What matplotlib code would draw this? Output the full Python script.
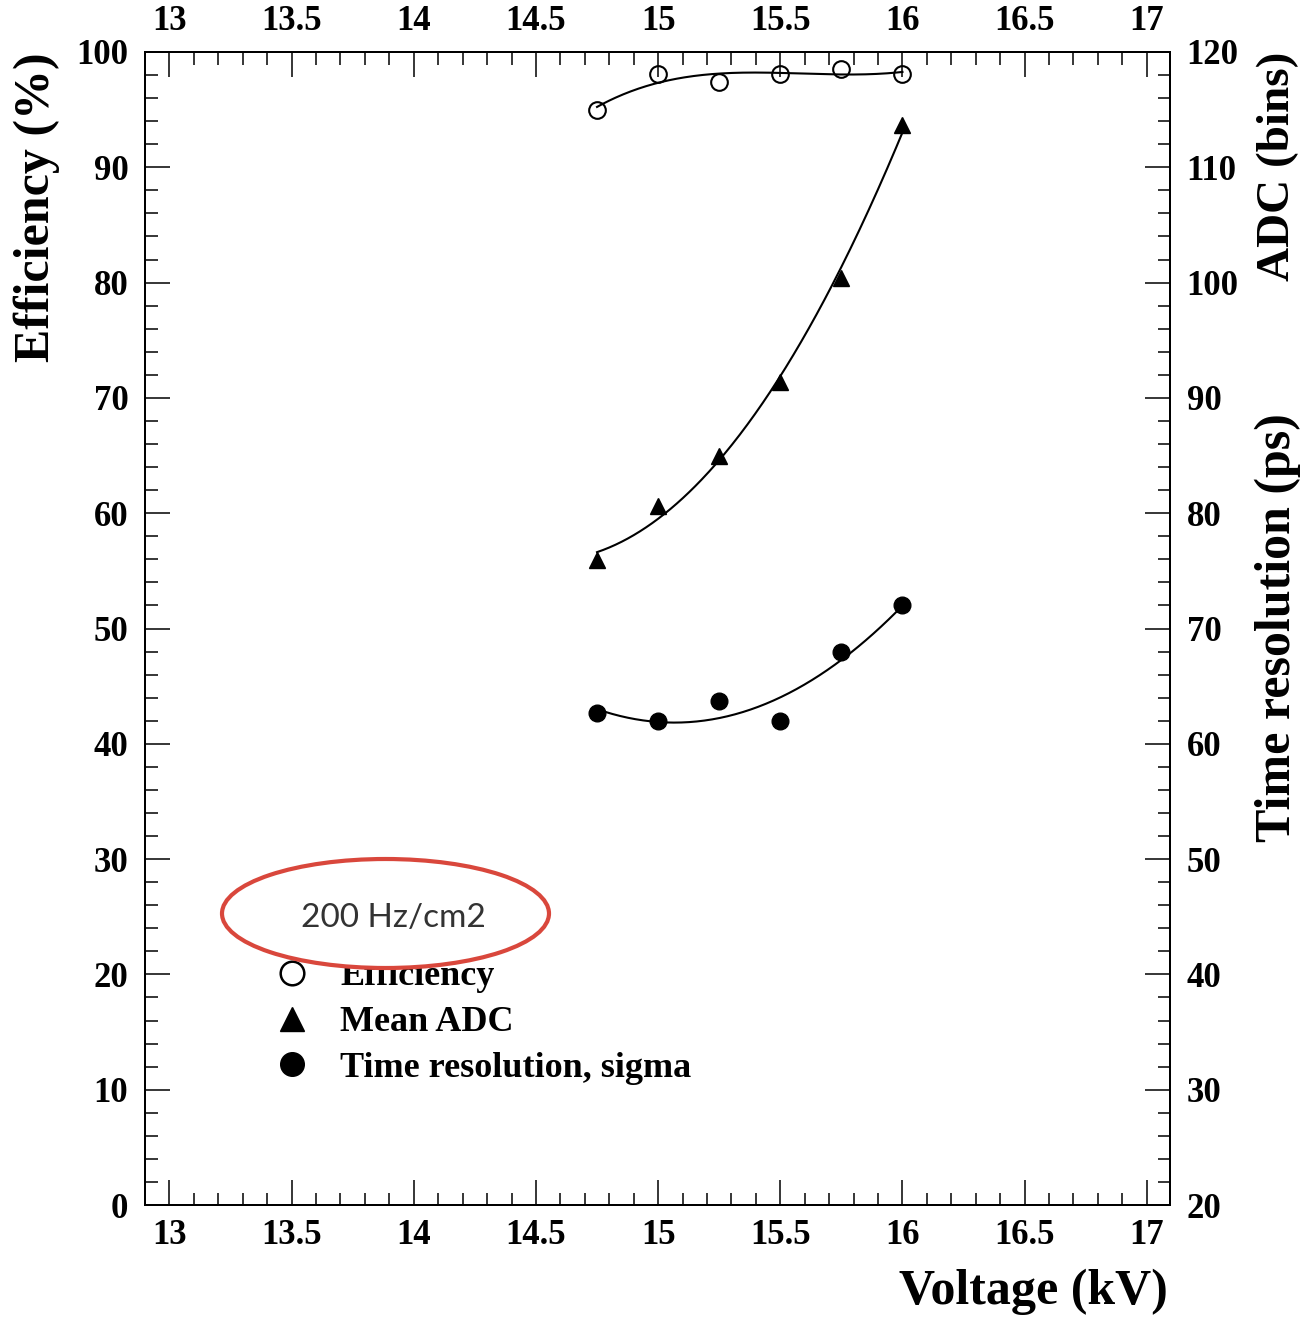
import numpy as np
import matplotlib
matplotlib.use("Agg")
import matplotlib.pyplot as plt
from matplotlib.patches import Ellipse
from matplotlib.lines import Line2D
from matplotlib.ticker import MultipleLocator

# ---------------- data ----------------
voltage = [14.75, 15.0, 15.25, 15.5, 15.75, 16.0]           # kV
efficiency = [95.0, 98.1, 97.4, 98.1, 98.5, 98.1]          # %
mean_adc = [75.9, 80.6, 85.0, 91.4, 100.4, 113.7]          # bins
time_res = [62.7, 62.0, 63.7, 62.0, 68.0, 72.0]            # ps

x_ticks = [13, 13.5, 14, 14.5, 15, 15.5, 16, 16.5, 17]
x_ticklabels = ["13", "13.5", "14", "14.5", "15", "15.5", "16", "16.5", "17"]
legend_labels = ["Efficiency", "Mean ADC", "Time resolution, sigma"]
note_text = "200 Hz/cm2"

plt.rcParams['font.family'] = ['Liberation Serif', 'DejaVu Serif']
plt.rcParams['font.weight'] = 'bold'

W, H = 1305, 1318
fig = plt.figure(figsize=(W / 100, H / 100), dpi=100)
L, R, T, B = 145, 1170, 52, 1205
ax = fig.add_axes([L / W, 1 - B / H, (R - L) / W, (B - T) / H])
ax2 = ax.twinx()

ax.set_xlim(12.9, 17.095)
ax.set_ylim(0, 100)
ax2.set_ylim(20, 120)

# fits
xs = np.linspace(voltage[0], voltage[-1], 200)
v = np.array(voltage)
p_eff = np.polyfit(v, efficiency, 3)
p_adc = np.polyfit(v, mean_adc, 2)
p_t = np.polyfit(v, time_res, 2)

ax.plot(xs, np.polyval(p_eff, xs), color='black', lw=1.5, zorder=2)
ax2.plot(xs, np.polyval(p_adc, xs), color='black', lw=1.5, zorder=2)
ax2.plot(xs, np.polyval(p_t, xs), color='black', lw=1.5, zorder=2)

ms = 12
ax.plot(voltage, efficiency, ls='none', marker='o', ms=ms, mfc='none',
        mec='black', mew=1.5, zorder=3)
ax2.plot(voltage, mean_adc, ls='none', marker='^', ms=ms, color='black', zorder=3)
ax2.plot(voltage, time_res, ls='none', marker='o', ms=ms, color='black', zorder=3)

# ticks
fs_tick = 25
for a in (ax, ax2):
    for s in a.spines.values():
        s.set_linewidth(1.4)

ax.set_xticks(x_ticks)
ax.set_xticklabels(x_ticklabels)
ax.xaxis.set_minor_locator(MultipleLocator(0.1))
ax.yaxis.set_major_locator(MultipleLocator(10))
ax.yaxis.set_minor_locator(MultipleLocator(2))
ax2.yaxis.set_major_locator(MultipleLocator(10))
ax2.yaxis.set_minor_locator(MultipleLocator(2))

ax.tick_params(axis='x', which='both', direction='in', top=True, bottom=True,
               labeltop=True, labelbottom=True, labelsize=fs_tick, pad=10)
ax.tick_params(axis='y', which='both', direction='in', left=True, right=False,
               labelsize=fs_tick, pad=12)
ax.tick_params(which='major', length=18, width=1.1)
ax.tick_params(which='minor', length=9, width=1.1)
ax2.tick_params(axis='y', which='both', direction='in', labelsize=fs_tick, pad=12)
ax2.tick_params(which='major', length=18, width=1.1)
ax2.tick_params(which='minor', length=9, width=1.1)
for lab in ax.get_xticklabels() + ax.get_yticklabels() + ax2.get_yticklabels():
    lab.set_fontweight('bold')

# axis titles
fs_title = 36
fig.text(1168 / W, 1 - 1292 / H, "Voltage (kV)", ha='right', va='center',
         fontsize=fs_title, fontweight='bold')
fig.text(37 / W, 1 - T / H, "Efficiency (%)", rotation=90, ha='center', va='top',
         fontsize=fs_title, fontweight='bold')
fig.text(1278 / W, 1 - T / H, "ADC (bins)", rotation=90, ha='center', va='top',
         fontsize=34, fontweight='bold')
fig.text(1278 / W, 1 - 628 / H, "Time resolution (ps)", rotation=90, ha='center',
         va='center', fontsize=fs_title, fontweight='bold')

# legend
lms = 17
handles = [
    Line2D([], [], ls='none', marker='o', ms=lms, mfc='none', mec='black', mew=1.8),
    Line2D([], [], ls='none', marker='^', ms=lms, color='black'),
    Line2D([], [], ls='none', marker='o', ms=lms, color='black'),
]
leg = ax.legend(handles, legend_labels, loc='upper left',
                bbox_to_anchor=((274 - L) / (R - L), (B - 960) / (B - T)),
                frameon=False, handlelength=1.0, handletextpad=0.83,
                labelspacing=0.35, borderpad=0, borderaxespad=0,
                prop={'weight': 'bold', 'size': 26})
leg.set_zorder(5)

# annotation ellipse
ell = Ellipse(((385.5 - L) / (R - L), (B - 913.5) / (B - T)),
              327 / (R - L), 109 / (B - T), transform=ax.transAxes,
              facecolor='white', edgecolor='#d9473c', lw=3, zorder=10, clip_on=False)
ax.add_patch(ell)
ax.text((393 - L) / (R - L), (B - 918) / (B - T), note_text, transform=ax.transAxes,
        ha='center', va='center', fontsize=24, fontweight='normal',
        family=['Lato', 'DejaVu Sans'], color='#333333', zorder=11)

fig.savefig("out.png", dpi=100, facecolor='white')
